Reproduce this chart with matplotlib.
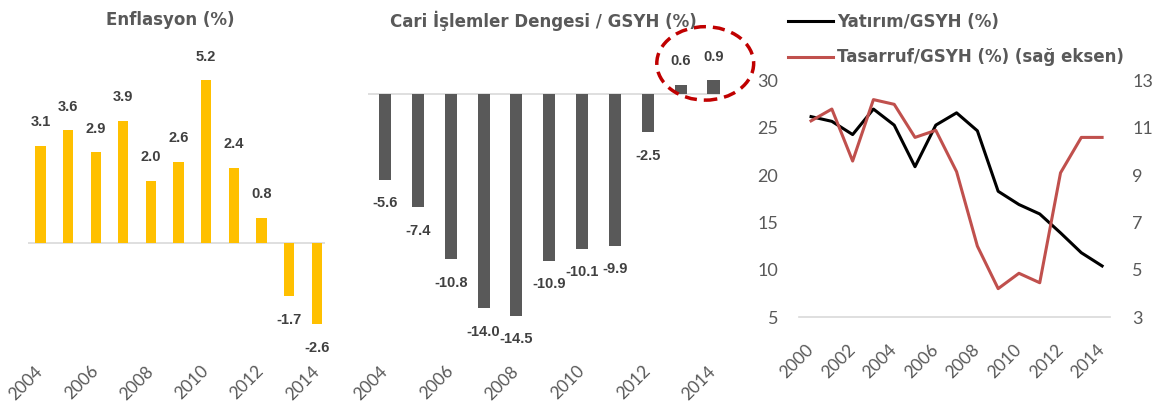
import numpy as np
import matplotlib
matplotlib.use("Agg")
import matplotlib.pyplot as plt
from matplotlib.patches import Ellipse

plt.rcParams['font.family'] = ['Lato', 'DejaVu Sans']
BOLD_FONT = ['DejaVu Sans']
LABEL_FONT = ['Liberation Sans', 'DejaVu Sans']

# data
bar_years = [2004, 2005, 2006, 2007, 2008, 2009, 2010, 2011, 2012, 2013, 2014]
inflation = [3.1, 3.6, 2.9, 3.9, 2.0, 2.6, 5.2, 2.4, 0.8, -1.7, -2.6]
current_account = [-5.6, -7.4, -10.8, -14.0, -14.5, -10.9, -10.1, -9.9, -2.5, 0.6, 0.9]

line_years = list(range(2000, 2015))
investment = [26.2, 25.7, 24.3, 27.0, 25.3, 20.9, 25.3, 26.6, 24.7, 18.3, 16.9, 15.9, 13.9, 11.8, 10.4]
savings = [11.3, 11.8, 9.6, 12.2, 12.0, 10.6, 10.9, 9.15, 6.0, 4.2, 4.85, 4.45, 9.1, 10.6, 10.6]

GRAY_TXT = "#595959"
LABEL_TXT = "#404040"
GOLD = "#FFC000"
DARK = "#595959"
RED = "#C0504D"
ZERO = "#D9D9D9"

W, H = 1165, 405
fig = plt.figure(figsize=(W / 100, H / 100), dpi=100)


def px_axes(x0, y0, x1, y1):
    return fig.add_axes([x0 / W, (H - y1) / H, (x1 - x0) / W, (y1 - y0) / H])


def bar_panel(ax, values, color, ylim, xlim):
    x = np.arange(len(values))
    ax.bar(x, values, width=0.37, color=color, zorder=2)
    ax.axhline(0, color=ZERO, lw=1.2, zorder=1)
    for xi, v in zip(x, values):
        off = 17 if v >= 0 else -17
        ax.annotate(f"{v:.1f}", (xi, v), xytext=(0, off), textcoords="offset points",
                    ha="center", va="center", fontsize=10.5, fontweight="bold",
                    family=LABEL_FONT, color=LABEL_TXT)
    ax.set_xlim(*xlim)
    ax.set_ylim(*ylim)
    ax.set_yticks([])
    ax.set_xticks(x[::2])
    ax.set_xticklabels([str(y) for y in bar_years[::2]], rotation=45, ha="right",
                       va="center", rotation_mode="anchor", fontsize=12.5, color=GRAY_TXT)
    ax.tick_params(axis="x", length=0, pad=12)
    for s in ax.spines.values():
        s.set_visible(False)
    return x


# panel 1: inflation
ax1 = px_axes(28, 40, 325, 352)
bar_panel(ax1, inflation, GOLD, (-3.48, 6.49), (-0.45, 10.3))
fig.text(170 / W, 1 - 20 / H, "Enflasyon (%)", ha="center", va="center",
         fontsize=12, fontweight="bold", family=BOLD_FONT, color=GRAY_TXT)

# panel 2: current account
ax2 = px_axes(368, 40, 720, 352)
x2 = bar_panel(ax2, current_account, DARK, (-16.86, 3.53), (-0.52, 10.2))
fig.text(543 / W, 1 - 21 / H, "Cari İşlemler Dengesi / GSYH (%)", ha="center",
         va="center", fontsize=12, fontweight="bold", family=BOLD_FONT, color=GRAY_TXT)
cx = x2[-2:].mean() + 0.25
cy = max(current_account[-2:]) + 1.1
ax2.add_patch(Ellipse((cx, cy), 2.95, 4.8, fill=False, ec="#C00000", lw=2.5,
                      ls=(0, (3.5, 2)), clip_on=False, zorder=5))

# panel 3: investment / savings
ax3 = px_axes(799, 80.7, 1110, 317)
l1, = ax3.plot(line_years, investment, color="black", lw=2.2)
ax3.set_xlim(1999.42, 2014.38)
ax3.set_ylim(5, 30)
ax3.set_yticks([5, 10, 15, 20, 25, 30])
ax4 = ax3.twinx()
l2, = ax4.plot(line_years, savings, color=RED, lw=2.2)
ax4.set_ylim(3, 13)
ax4.set_yticks([3, 5, 7, 9, 11, 13])
ax3.set_xticks(line_years[::2])
ax3.set_xticklabels([str(y) for y in line_years[::2]], rotation=45, ha="right",
                    va="center", rotation_mode="anchor", fontsize=12.5, color=GRAY_TXT)
ax3.tick_params(axis="x", length=0, pad=22)
ax3.tick_params(axis="y", length=0, pad=15, labelsize=13, labelcolor=GRAY_TXT)
ax4.tick_params(axis="y", length=0, pad=16, labelsize=13, labelcolor=GRAY_TXT)
for a in (ax3, ax4):
    for s in a.spines.values():
        s.set_visible(False)
ax3.spines["bottom"].set_visible(True)
ax3.spines["bottom"].set_color(ZERO)
ax3.spines["bottom"].set_linewidth(1.2)

leg = fig.legend([l1, l2], ["Yatırım/GSYH (%)", "Tasarruf/GSYH (%) (sağ eksen)"],
                 loc="upper left", bbox_to_anchor=(773 / W, 1 + 2 / H), frameon=False,
                 handlelength=2.7, handletextpad=0.25, labelspacing=1.05,
                 prop={"size": 12, "weight": "bold", "family": BOLD_FONT})
for t in leg.get_texts():
    t.set_color(GRAY_TXT)

fig.savefig("out.png", dpi=100)
